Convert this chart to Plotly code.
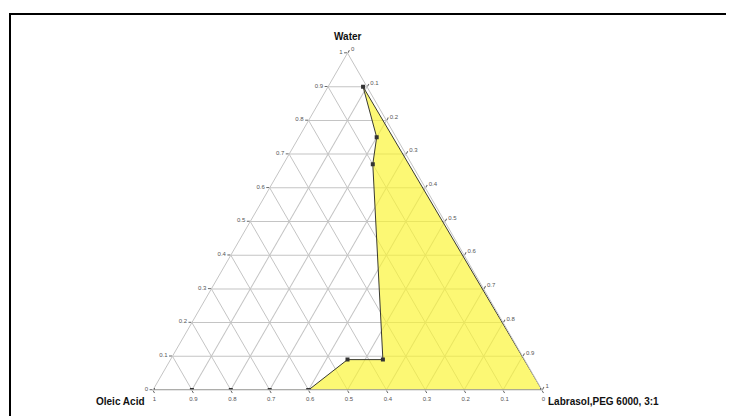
import plotly.graph_objects as go

W, H = 734, 416
OFF = 8  # the page body adds an 8px margin round the plot div

# boundary points of the phase diagram (fractions)
water = [0, 0, 0, 0, 0, 0.09, 0.09, 0.67, 0.75, 0.90, 0]
oleic = [1, 0.9, 0.8, 0.7, 0.6, 0.455, 0.364, 0.10, 0.05, 0.01, 0]
labrasol = [0, 0.1, 0.2, 0.3, 0.4, 0.455, 0.546, 0.23, 0.20, 0.09, 1]

tick_vals = [0, 0.1, 0.2, 0.3, 0.4, 0.5, 0.6, 0.7, 0.8, 0.9, 1]
tick_text = ["0", "0.1", "0.2", "0.3", "0.4", "0.5", "0.6", "0.7", "0.8", "0.9", "1"]

LINE = "#3a3a32"
GRID = "#c4c4c4"


def px(x):
    return (x - OFF) / W


def py(y):
    return 1 - (y - OFF) / H


# the yellow region: from the last oleic/labrasol point round to the labrasol corner
region = list(range(4, len(water))) + [4]

fig = go.Figure()
fig.add_trace(go.Scatterternary(
    a=[water[i] for i in region],
    b=[oleic[i] for i in region],
    c=[labrasol[i] for i in region],
    mode="lines+markers",
    fill="toself",
    fillcolor="rgba(250,245,50,0.68)",
    line=dict(color=LINE, width=1),
    marker=dict(symbol="square", size=4, color="#333333"),
    hoverinfo="skip",
))
fig.add_trace(go.Scatterternary(
    a=water[:5], b=oleic[:5], c=labrasol[:5],
    mode="lines+markers",
    line=dict(color=LINE, width=1),
    marker=dict(symbol="square", size=4, color="#333333"),
    hoverinfo="skip",
))

axis_common = dict(
    min=0,
    title=dict(text=""),
    tickmode="array",
    tickvals=tick_vals,
    ticktext=tick_text,
    tickfont=dict(family="Liberation Sans", size=6, color="#555555"),
    ticks="outside",
    ticklen=3,
    tickcolor="#666666",
    showgrid=True,
    gridcolor=GRID,
    gridwidth=1,
    linecolor=GRID,
    linewidth=1,
)
title_font = dict(family="Liberation Sans", size=10, color="#111111")

x0, x1 = 153, 542
y_top, y_bot = 53, 390
fig.update_layout(
    width=W,
    height=H,
    margin=dict(l=0, r=0, t=0, b=0),
    paper_bgcolor="white",
    showlegend=False,
    ternary=dict(
        sum=1,
        bgcolor="white",
        domain=dict(x=[px(x0), px(x1)], y=[py(y_bot), py(y_top)]),
        aaxis=axis_common,
        baxis=axis_common,
        caxis=axis_common,
    ),
    annotations=[
        dict(text="<b>Water</b>", x=px(348), y=py(37), xanchor="center", yanchor="middle"),
        dict(text="<b>Oleic Acid</b>", x=px(147), y=py(401), xanchor="right", yanchor="middle"),
        dict(text="<b>Labrasol,PEG 6000, 3:1</b>", x=px(546), y=py(401), xanchor="left", yanchor="middle"),
    ],
    shapes=[dict(
        type="rect", xref="paper", yref="paper",
        x0=px(10), x1=1.05, y0=-0.05, y1=py(14),
        line=dict(color="black", width=2),
    )],
)
for ann in fig.layout.annotations:
    ann.update(xref="paper", yref="paper", showarrow=False, font=title_font)

fig.write_html("out.html")
